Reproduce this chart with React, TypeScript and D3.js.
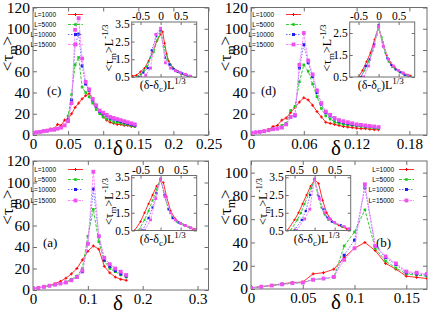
import React, { useEffect, useRef } from "react";
import * as d3 from "d3";

// delta grids
const deltaCD = [0, 0.005, 0.01, 0.015, 0.02, 0.025, 0.03, 0.035, 0.04, 0.045, 0.05, 0.055, 0.06, 0.065, 0.07, 0.075, 0.08, 0.085, 0.09, 0.095, 0.1, 0.105, 0.11, 0.115, 0.12, 0.125, 0.13, 0.135, 0.14, 0.145];
const deltaAB = [0, 0.01, 0.02, 0.03, 0.04, 0.05, 0.06, 0.07, 0.08, 0.09, 0.1, 0.11, 0.12, 0.13, 0.14, 0.15, 0.16, 0.17];

const legendLabels = ["L=1000", "L=5000", "L=10000", "L=15000"];

// panel (c)
const cRed = [2, 2.5, 3, 4, 4.5, 5.5, 6, 10, 9, 14, 15, 20, 26, 30, 34, 37, 39, 34, 27, 22, 17, 14, 12, 11, 10, 10, 9, 9, 8, 8];
const cGreen = [2, 2.5, 3, 3.5, 4, 5, 5.5, 6, 7, 9, 18, 38, 66, 73, 45, 40, 36, 30, 24, 20, 17, 15, 14, 12, 12, 11, 10, 10, 9, 8];
const cBlue = [2, 2.5, 3, 3.5, 4, 5, 5, 6, 7, 9, 14, 33, 85, 95, 65, 48, 42, 33, 27, 22, 20, 18, 16, 15, 14, 13, 12, 11, 10, 9];
const cPink = [2, 2.5, 3, 3.5, 4, 5, 5, 6, 7, 9, 13, 30, 99, 110, 72, 50, 43, 34, 28, 23, 21, 19, 17, 16, 15, 14, 13, 12, 11, 10];

// panel (d)
const dRed = [2, 2.5, 3, 4, 5, 8, 9, 14, 16, 21, 26, 31, 35, 33, 28, 22, 17, 12, 11, 10, 9, 8, 7.5, 7, 6.5, 6, 6, 5.5, 5, 5];
const dGreen = [2, 2.5, 3, 3.5, 4.5, 5.5, 6.5, 9, 11, 23, 27, 50, 66, 60, 48, 36, 25, 18, 15, 12, 11, 10, 9.5, 9, 8.5, 8, 7.5, 7, 6.5, 6];
const dBlue = [2, 2.5, 3, 3.5, 4.5, 5.5, 6, 7, 10, 17, 18, 63, 85, 68, 55, 40, 29, 21, 18, 15, 13, 12, 11, 10, 9.5, 9, 8.5, 8, 7.5, 7];
const dPink = [2, 2.5, 3, 3.5, 4.5, 5.5, 6, 7, 10, 17, 19, 66, 96, 70, 57, 42, 30, 22, 19, 16, 14, 13, 12, 11, 10, 9.5, 9, 8.5, 8, 7.5];

// panel (a)
const aRed = [1.5, 2, 3, 4, 6, 8, 11, 15, 20, 28, 36, 41, 38, 22, 16, 12, 10, 9];
const aGreen = [1.5, 2, 3, 4, 5, 6, 7.5, 10, 13, 20, 50, 75, 45, 27, 20, 17, 14, 12];
const aBlue = [1.5, 2, 3, 4, 5, 6, 7, 9, 12, 17, 43, 94, 50, 28, 22, 18, 15, 13];
const aPink = [1.5, 2, 3, 4, 5, 6, 7, 9, 12, 18, 43, 110, 50, 30, 24, 20, 17, 14];

// panel (b)
const bRed = [1, 2, 3, 4.5, 5.5, 6, 13, 14, 17, 27, 35, 40, 33, 22, 17, 11, 10, 9];
const bGreen = [1, 2, 3, 4, 5, 5.5, 8, 9, 10, 37, 49, 68, 35, 24, 18, 13, 12, 11];
const bBlue = [1, 2, 3, 4, 5, 5.5, 8, 9, 10.5, 29, 42, 87, 37, 27, 21, 14, 13, 12];
const bPink = [1, 2, 3, 4, 5, 5.5, 8, 9, 10.5, 25, 35, 90, 37, 28, 22, 15, 14, 13];

// insets: [(delta-delta_c) L^(1/3), <tau_m> L^(-1/3)]
const cInsetRed = [[-0.7, 0.55], [-0.6, 0.6], [-0.5, 0.8], [-0.4, 1.0], [-0.3, 1.4], [-0.2, 1.9], [-0.1, 2.5], [0, 2.9], [0.05, 3.05], [0.1, 2.4], [0.15, 1.8], [0.2, 1.4], [0.3, 1.05], [0.4, 0.85], [0.5, 0.72], [0.6, 0.62], [0.7, 0.55]];
const cInsetGreen = [[-0.6, 0.5], [-0.5, 0.65], [-0.42, 0.85], [-0.34, 1.1], [-0.25, 1.6], [-0.17, 1.9], [-0.08, 2.6], [0, 3.1], [0.08, 2.2], [0.17, 1.5], [0.25, 1.2], [0.34, 0.95], [0.42, 0.8], [0.51, 0.7], [0.6, 0.62], [0.68, 0.55], [0.77, 0.5]];
const cInsetBlue = [[-0.54, 0.5], [-0.43, 0.75], [-0.32, 1.0], [-0.22, 2.0], [-0.11, 2.8], [0, 3.15], [0.11, 1.6], [0.22, 1.2], [0.32, 0.95], [0.43, 0.8], [0.54, 0.7], [0.65, 0.6], [0.75, 0.52]];
const cInsetPink = [[-0.49, 0.45], [-0.37, 0.6], [-0.25, 1.0], [-0.12, 2.9], [0, 3.25], [0.12, 1.3], [0.25, 1.0], [0.37, 0.85], [0.49, 0.75], [0.62, 0.65], [0.74, 0.55]];

const dInsetRed = [[-0.5, 0.5], [-0.4, 0.8], [-0.3, 1.2], [-0.2, 1.6], [-0.1, 2.2], [0, 2.75], [0.1, 2.1], [0.2, 1.5], [0.3, 1.15], [0.4, 0.95], [0.5, 0.8], [0.6, 0.7], [0.7, 0.6], [0.8, 0.55]];
const dInsetGreen = [[-0.45, 0.5], [-0.35, 0.8], [-0.25, 1.2], [-0.15, 1.7], [-0.05, 2.4], [0, 2.7], [0.08, 2.3], [0.17, 1.6], [0.25, 1.2], [0.34, 0.95], [0.42, 0.85], [0.51, 0.75], [0.6, 0.65], [0.68, 0.58], [0.77, 0.52]];
const dInsetBlue = [[-0.43, 0.5], [-0.32, 1.0], [-0.22, 1.3], [-0.11, 2.0], [0, 2.85], [0.11, 1.9], [0.22, 1.35], [0.32, 1.05], [0.43, 0.85], [0.54, 0.72], [0.65, 0.6], [0.75, 0.53]];
const dInsetPink = [[-0.37, 0.5], [-0.25, 1.0], [-0.12, 1.9], [0, 2.8], [0.12, 1.9], [0.25, 1.3], [0.37, 1.0], [0.49, 0.8], [0.62, 0.68], [0.74, 0.58]];

const aInsetRed = [[-0.65, 0.5], [-0.5, 1.0], [-0.4, 1.5], [-0.3, 2.0], [-0.2, 2.5], [-0.1, 3.0], [0, 3.3], [0.07, 3.2], [0.15, 2.4], [0.25, 1.6], [0.35, 1.2], [0.5, 0.9], [0.6, 0.8], [0.7, 0.7], [0.8, 0.6], [0.9, 0.5]];
const aInsetGreen = [[-0.55, 0.5], [-0.4, 1.1], [-0.3, 1.6], [-0.2, 2.2], [-0.1, 2.8], [0, 3.4], [0.1, 2.4], [0.2, 1.7], [0.3, 1.3], [0.4, 1.0], [0.55, 0.85], [0.7, 0.7], [0.85, 0.55]];
const aInsetBlue = [[-0.45, 0.5], [-0.3, 1.2], [-0.2, 1.8], [-0.1, 2.6], [0, 3.4], [0.1, 2.5], [0.2, 1.7], [0.3, 1.2], [0.45, 0.95], [0.6, 0.8], [0.75, 0.65], [0.9, 0.55]];
const aInsetPink = [[-0.4, 0.5], [-0.25, 1.1], [-0.12, 2.3], [0, 3.4], [0.12, 2.4], [0.25, 1.5], [0.37, 1.1], [0.5, 0.9], [0.62, 0.78], [0.75, 0.65], [0.87, 0.55]];

const bInsetRed = [[-0.68, 0.5], [-0.5, 1.1], [-0.4, 1.5], [-0.3, 2.0], [-0.2, 2.5], [-0.1, 3.0], [0, 3.35], [0.1, 3.15], [0.2, 2.2], [0.3, 1.5], [0.4, 1.15], [0.5, 0.95], [0.6, 0.8], [0.7, 0.7], [0.8, 0.6], [0.9, 0.52]];
const bInsetGreen = [[-0.6, 0.5], [-0.43, 1.1], [-0.34, 1.5], [-0.25, 2.0], [-0.08, 2.9], [0, 3.4], [0.08, 2.5], [0.17, 1.8], [0.25, 1.4], [0.34, 1.1], [0.51, 0.9], [0.68, 0.72], [0.85, 0.58]];
const bInsetBlue = [[-0.5, 0.5], [-0.32, 1.1], [-0.22, 1.6], [-0.11, 2.5], [0, 3.4], [0.11, 2.4], [0.22, 1.7], [0.32, 1.25], [0.43, 1.0], [0.65, 0.8], [0.86, 0.58]];
const bInsetPink = [[-0.45, 0.5], [-0.25, 1.15], [-0.12, 1.7], [0, 3.4], [0.12, 2.3], [0.25, 1.5], [0.37, 1.15], [0.5, 0.95], [0.74, 0.72], [0.86, 0.6]];

// ticks
const xTicksC = [0, 0.05, 0.1, 0.15, 0.2, 0.25];
const xTicksD = [0, 0.06, 0.12, 0.18];
const xTicksA = [0, 0.1, 0.2, 0.3];
const xTicksB = [0, 0.05, 0.1, 0.15];
const yTicks120 = [0, 20, 40, 60, 80, 100, 120];
const yTicks100 = [0, 20, 40, 60, 80, 100];
const insetXTicks = [-0.5, 0, 0.5];
const insetYTicks = [0.5, 1.5, 2.5, 3.5];
const insetYTicksD = [0.5, 1.5, 2.5];

const lineColors = ["#ff3030", "#33cc33", "#7070ff", "#ff88ff"];
const markColors = ["#ff0000", "#18c818", "#2020ee", "#f050f0"];
const dashes = [null, "3,1.5", "1.5,1.5", "2.5,1"];
const markSize = [3, 2.6, 3, 3.8];
const SERIF = "'Liberation Serif', 'Times New Roman', serif";
const SANS = "'Liberation Sans', Arial, sans-serif";
const FRAME = "#6e6e6e";

const panels = [
  {
    id: "c", left: 33, top: 7.5, w: 175.5, h: 127.5,
    xDomain: [0, 0.25], yDomain: [0, 120], xTicks: xTicksC, yTicks: yTicks120,
    delta: deltaCD, series: [cRed, cGreen, cBlue, cPink], label: "(c)", labelAt: [14, 87],
    legend: { textX: 23, y: 6, lineX: 35 },
    inset: { dx: 98.7, dy: 14.5, w: 65, h: 55, yDomain: [0.5, 3.6], yTicks: insetYTicks,
      series: [cInsetRed, cInsetGreen, cInsetBlue, cInsetPink] },
  },
  {
    id: "d", left: 251, top: 7.5, w: 176, h: 127.5,
    xDomain: [0, 0.2], yDomain: [0, 120], xTicks: xTicksD, yTicks: yTicks120,
    delta: deltaCD, series: [dRed, dGreen, dBlue, dPink], label: "(d)", labelAt: [10, 87],
    legend: { textX: 23, y: 6, lineX: 35 },
    inset: { dx: 98.7, dy: 14.5, w: 65, h: 55, yDomain: [0.5, 3.0], yTicks: insetYTicksD,
      series: [dInsetRed, dInsetGreen, dInsetBlue, dInsetPink] },
  },
  {
    id: "a", left: 33, top: 161, w: 175.5, h: 129,
    xDomain: [0, 0.32], yDomain: [0, 120], xTicks: xTicksA, yTicks: yTicks120,
    delta: deltaAB, series: [aRed, aGreen, aBlue, aPink], label: "(a)", labelAt: [10, 86],
    legend: { textX: 23, y: 8, lineX: 35 },
    inset: { dx: 98.7, dy: 14.5, w: 65, h: 55, yDomain: [0.5, 3.6], yTicks: insetYTicks,
      series: [aInsetRed, aInsetGreen, aInsetBlue, aInsetPink] },
  },
  {
    id: "b", left: 251, top: 161, w: 176, h: 128,
    xDomain: [0, 0.17], yDomain: [0, 110], xTicks: xTicksB, yTicks: yTicks100,
    delta: deltaAB, series: [bRed, bGreen, bBlue, bPink], label: "(b)", labelAt: [125, 86],
    legend: { textX: 143, y: 8, lineX: 148 },
    inset: { dx: 34.7, dy: 14.5, w: 65, h: 55, yDomain: [0.5, 3.6], yTicks: insetYTicks,
      series: [bInsetRed, bInsetGreen, bInsetBlue, bInsetPink] },
  },
];

const drawMarker = (g, cx, cy, i, s) => {
  if (i === 0) {
    g.append("path")
      .attr("d", `M${cx - s / 2},${cy}H${cx + s / 2}M${cx},${cy - s / 2}V${cy + s / 2}`)
      .attr("stroke", markColors[0]).attr("stroke-width", 1);
  } else {
    g.append("rect")
      .attr("x", cx - s / 2).attr("y", cy - s / 2)
      .attr("width", s).attr("height", s)
      .attr("fill", markColors[i]);
  }
};

const styleAxis = (sel, size, family) => {
  sel.select(".domain").remove();
  sel.selectAll(".tick line").attr("stroke", FRAME);
  sel.selectAll("text")
    .attr("fill", "#000")
    .attr("font-family", family)
    .attr("font-size", size);
};

const drawPanel = (svg, p) => {
  const g = svg.append("g");
  const x = d3.scaleLinear().domain(p.xDomain).range([p.left, p.left + p.w]);
  const y = d3.scaleLinear().domain(p.yDomain).range([p.top + p.h, p.top]);
  const fmt = (d) => String(d);

  // axes (gnuplot style ticks pointing inward, mirrored)
  g.append("g").attr("transform", `translate(0,${p.top + p.h})`)
    .call(d3.axisBottom(x).tickValues(p.xTicks).tickSize(-4).tickPadding(3).tickFormat(fmt))
    .call((s) => styleAxis(s, 15, SERIF));
  g.append("g").attr("transform", `translate(0,${p.top})`)
    .call(d3.axisTop(x).tickValues(p.xTicks).tickSize(-4).tickFormat(() => ""))
    .call((s) => styleAxis(s, 15, SERIF));
  g.append("g").attr("transform", `translate(${p.left},0)`)
    .call(d3.axisLeft(y).tickValues(p.yTicks).tickSize(-4).tickPadding(3).tickFormat(fmt))
    .call((s) => styleAxis(s, 15.5, SERIF));
  g.append("g").attr("transform", `translate(${p.left + p.w},0)`)
    .call(d3.axisRight(y).tickValues(p.yTicks).tickSize(-4).tickFormat(() => ""))
    .call((s) => styleAxis(s, 15, SERIF));

  g.append("rect")
    .attr("x", p.left).attr("y", p.top).attr("width", p.w).attr("height", p.h)
    .attr("fill", "none").attr("stroke", FRAME).attr("stroke-width", 1);

  // axis labels
  const yl = g.append("text")
    .attr("transform", `translate(${p.left - 20},${p.top + 46}) rotate(-90)`)
    .attr("text-anchor", "middle")
    .attr("font-family", SERIF).attr("font-size", 17);
  yl.append("tspan").text("<τ");
  yl.append("tspan").attr("font-size", 12).attr("dy", 4).text("m");
  yl.append("tspan").attr("dy", -4).text(">");

  g.append("text")
    .attr("x", p.left + 85).attr("y", p.top + p.h + 20)
    .attr("text-anchor", "middle")
    .attr("font-family", SERIF).attr("font-size", 21)
    .text("δ");

  g.append("text")
    .attr("x", p.left + p.labelAt[0]).attr("y", p.top + p.labelAt[1])
    .attr("font-family", SERIF).attr("font-size", 13)
    .text(p.label);

  // data
  const clipId = `clip-${p.id}`;
  g.append("clipPath").attr("id", clipId)
    .append("rect").attr("x", p.left).attr("y", p.top).attr("width", p.w).attr("height", p.h);
  const plot = g.append("g").attr("clip-path", `url(#${clipId})`);
  const line = d3.line().x((d) => x(d[0])).y((d) => y(d[1]));

  p.series.forEach((vals, i) => {
    const pts = p.delta.map((dd, j) => [dd, vals[j]]);
    plot.append("path")
      .attr("d", line(pts))
      .attr("fill", "none")
      .attr("stroke", lineColors[i])
      .attr("stroke-width", 1)
      .attr("stroke-dasharray", dashes[i]);
    pts.forEach((pt) => drawMarker(plot, x(pt[0]), y(pt[1]), i, markSize[i]));
  });

  // legend
  legendLabels.forEach((lab, i) => {
    const ly = Math.round(p.top + p.legend.y + i * 10.2) + 0.5;
    g.append("text")
      .attr("x", p.left + p.legend.textX).attr("y", ly + 2.3)
      .attr("text-anchor", "end")
      .attr("font-family", SANS).attr("font-size", 6.5)
      .text(lab);
    const x1 = p.left + p.legend.lineX;
    const x2 = x1 + 15;
    g.append("line")
      .attr("x1", x1).attr("x2", x2).attr("y1", ly).attr("y2", ly)
      .attr("stroke", lineColors[i]).attr("stroke-width", 1)
      .attr("stroke-dasharray", dashes[i]);
    drawMarker(g, (x1 + x2) / 2, ly, i, markSize[i]);
  });

  // inset
  const ins = p.inset;
  const il = p.left + ins.dx;
  const it = p.top + ins.dy;
  const ix = d3.scaleLinear().domain([-0.72, 0.9]).range([il, il + ins.w]);
  const iy = d3.scaleLinear().domain(ins.yDomain).range([it + ins.h, it]);
  const ig = g.append("g");
  ig.append("rect").attr("x", il).attr("y", it).attr("width", ins.w).attr("height", ins.h)
    .attr("fill", "#fff");

  const iclip = `iclip-${p.id}`;
  ig.append("clipPath").attr("id", iclip)
    .append("rect").attr("x", il).attr("y", it).attr("width", ins.w).attr("height", ins.h);
  const iplot = ig.append("g").attr("clip-path", `url(#${iclip})`);
  const iline = d3.line().x((d) => ix(d[0])).y((d) => iy(d[1]));
  ins.series.forEach((pts, i) => {
    iplot.append("path")
      .attr("d", iline(pts))
      .attr("fill", "none")
      .attr("stroke", lineColors[i])
      .attr("stroke-width", 1)
      .attr("stroke-dasharray", dashes[i]);
    pts.forEach((pt) => drawMarker(iplot, ix(pt[0]), iy(pt[1]), i, markSize[i] * 0.75));
  });

  ig.append("g").attr("transform", `translate(0,${it})`)
    .call(d3.axisTop(ix).tickValues(insetXTicks).tickSize(-3).tickPadding(2).tickFormat(fmt))
    .call((s) => styleAxis(s, 11.5, SERIF));
  ig.append("g").attr("transform", `translate(0,${it + ins.h})`)
    .call(d3.axisBottom(ix).tickValues(insetXTicks).tickSize(-3).tickFormat(() => ""))
    .call((s) => styleAxis(s, 11, SERIF));
  ig.append("g").attr("transform", `translate(${il},0)`)
    .call(d3.axisLeft(iy).tickValues(ins.yTicks).tickSize(-3).tickPadding(2).tickFormat(fmt))
    .call((s) => styleAxis(s, 11.5, SERIF));
  ig.append("g").attr("transform", `translate(${il + ins.w},0)`)
    .call(d3.axisRight(iy).tickValues(ins.yTicks).tickSize(-3).tickFormat(() => ""))
    .call((s) => styleAxis(s, 11, SERIF));
  ig.append("rect").attr("x", il).attr("y", it).attr("width", ins.w).attr("height", ins.h)
    .attr("fill", "none").attr("stroke", FRAME).attr("stroke-width", 1);

  const iyl = ig.append("text")
    .attr("transform", `translate(${il - 19},${it + 26}) rotate(-90)`)
    .attr("text-anchor", "middle")
    .attr("font-family", SERIF).attr("font-size", 12);
  iyl.append("tspan").text("<τ");
  iyl.append("tspan").attr("font-size", 9).attr("dy", 3).text("m");
  iyl.append("tspan").attr("dy", -3).text(">L");
  iyl.append("tspan").attr("font-size", 9).attr("dy", -5).text("-1/3");

  const ixl = ig.append("text")
    .attr("x", il + 8).attr("y", it + ins.h + 12)
    .attr("font-family", SERIF).attr("font-size", 12);
  ixl.append("tspan").text("(δ-δ");
  ixl.append("tspan").attr("font-size", 9).attr("dy", 3).text("c");
  ixl.append("tspan").attr("dy", -3).text(")L");
  ixl.append("tspan").attr("font-size", 9).attr("dy", -5).text("1/3");
};

const App = () => {
  const svgRef = useRef(null);

  useEffect(() => {
    const svg = d3.select(svgRef.current);
    svg.selectAll("*").remove();
    svg.append("rect").attr("width", 436).attr("height", 313).attr("fill", "#fff");
    panels.forEach((p) => drawPanel(svg, p));
  }, []);

  return (
    <svg
      ref={svgRef}
      width={436}
      height={313}
      style={{ position: "absolute", left: 0, top: 0, display: "block" }}
    />
  );
};

export default App;
